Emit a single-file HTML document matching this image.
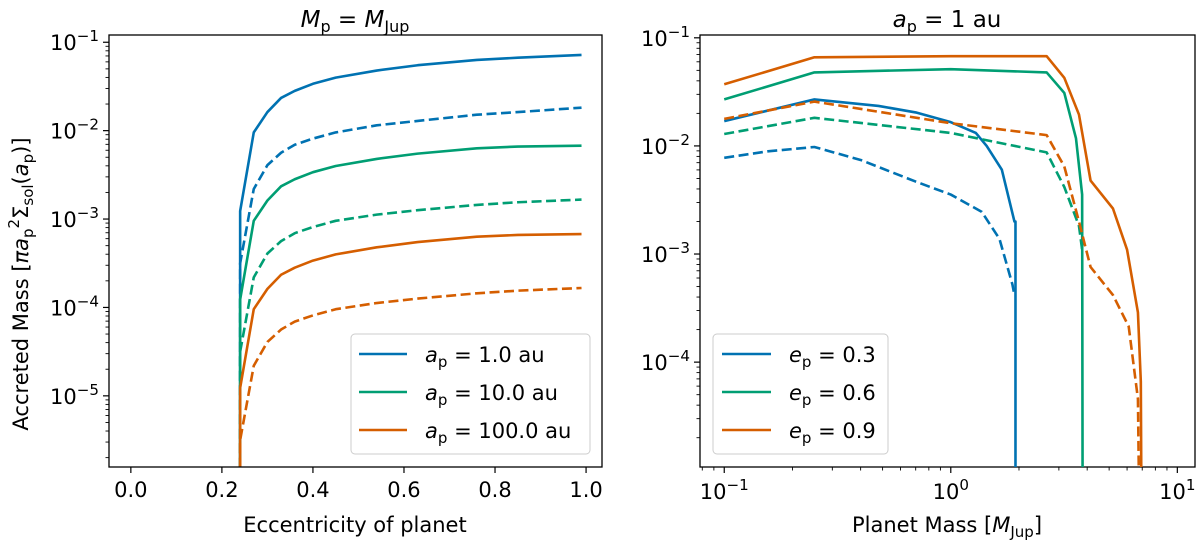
<!DOCTYPE html>
<html><head><meta charset="utf-8"><style>
html,body{margin:0;padding:0;background:#fff;}
svg{display:block;font-family:"DejaVu Sans","Liberation Sans",sans-serif;}
</style></head>
<body>
<svg id="fig" width="1200" height="541" viewBox="0 0 1200 541" xmlns="http://www.w3.org/2000/svg"></svg>
<script>
// ---- Left panel data (eccentricity vs log10 accreted mass) ----
const eccValues = [0.24,0.2401,0.27,0.30,0.33,0.36,0.40,0.45,0.54,0.63,0.76,0.85,0.99];
const leftBlueSolid  = [-9,-2.91,-2.02,-1.79,-1.63,-1.55,-1.47,-1.40,-1.32,-1.26,-1.20,-1.175,-1.144];
const leftBlueDash   = [-9,-3.5,-2.66,-2.39,-2.25,-2.16,-2.09,-2.02,-1.94,-1.89,-1.82,-1.79,-1.74];
const leftGreenSolid = [-9,-3.91,-3.02,-2.79,-2.63,-2.55,-2.47,-2.40,-2.32,-2.26,-2.20,-2.18,-2.17];
const leftGreenDash  = [-9,-4.5,-3.66,-3.39,-3.25,-3.16,-3.09,-3.02,-2.95,-2.9,-2.84,-2.81,-2.78];
const leftOrangeSolid= [-9,-4.91,-4.02,-3.79,-3.63,-3.55,-3.47,-3.40,-3.32,-3.26,-3.20,-3.18,-3.17];
const leftOrangeDash = [-9,-5.5,-4.66,-4.39,-4.25,-4.16,-4.09,-4.02,-3.95,-3.9,-3.84,-3.81,-3.78];
const leftXTicks = [0.0,0.2,0.4,0.6,0.8,1.0];
const leftXTickLabels = ["0.0","0.2","0.4","0.6","0.8","1.0"];
const leftYTicks = [-1,-2,-3,-4,-5];
// ---- Right panel data (planet mass vs log10 accreted mass) ----
const rBlueSolidM = [0.1,0.25,0.48,0.7,1.0,1.29,1.44,1.68,1.91,1.93,1.93];
const rBlueSolidV = [-1.77,-1.57,-1.63,-1.69,-1.78,-1.88,-2.0,-2.22,-2.70,-2.70,-9];
const rBlueDashM = [0.1,0.156,0.25,0.4,0.7,1.0,1.37,1.64,1.87,1.91];
const rBlueDashV = [-2.11,-2.05,-2.01,-2.13,-2.33,-2.45,-2.61,-2.86,-3.28,-3.38];
const rGreenSolidM = [0.1,0.25,1.0,2.65,3.17,3.57,3.8,3.82];
const rGreenSolidV = [-1.57,-1.32,-1.29,-1.32,-1.51,-1.93,-2.45,-9];
const rGreenDashM = [0.1,0.25,1.0,2.65,3.17,3.68,3.8];
const rGreenDashV = [-1.89,-1.74,-1.88,-2.06,-2.38,-2.74,-2.96];
const rOrangeSolidM = [0.1,0.25,1.0,2.65,3.17,3.68,4.14,5.2,6.0,6.7,6.9,6.95];
const rOrangeSolidV = [-1.43,-1.18,-1.17,-1.17,-1.37,-1.71,-2.32,-2.58,-2.96,-3.54,-4.18,-9];
const rOrangeDashM = [0.1,0.25,1.0,2.65,3.17,3.68,4.14,5.2,6.1,6.7,6.8];
const rOrangeDashV = [-1.75,-1.59,-1.79,-1.90,-2.19,-2.70,-3.12,-3.38,-3.67,-4.34,-9];
const rightXTicks = [-1,0,1];
const rightYTicks = [-1,-2,-3,-4];

const C = {blue:"#0072b2",green:"#009e73",orange:"#d55e00"};
const NS="http://www.w3.org/2000/svg";
const svg=document.getElementById('fig');
function mk(tag,attrs,parent){const e=document.createElementNS(NS,tag);for(const k in attrs)e.setAttribute(k,attrs[k]);(parent||svg).appendChild(e);return e;}

const L={x0:109,x1:602,y0:35,y1:467,xmin:-0.048,xmax:1.035,ymin:-5.805,ymax:-0.918};
const R={x0:700,x1:1195,y0:35,y1:467,xmin:-1.107,xmax:1.078,ymin:-4.97,ymax:-0.974};
function sx(P,v){return P.x0+(v-P.xmin)/(P.xmax-P.xmin)*(P.x1-P.x0);}
function sy(P,v){return P.y1-(v-P.ymin)/(P.ymax-P.ymin)*(P.y1-P.y0);}

function clip(P,id){const d=mk('defs',{});const c=mk('clipPath',{id:id},d);mk('rect',{x:P.x0,y:P.y0,width:P.x1-P.x0,height:P.y1-P.y0},c);}
clip(L,'clipL');clip(R,'clipR');

function line(P,xs,ys,col,dash,clipId,name,logx){
  let d='';
  for(let i=0;i<xs.length;i++){const xv=logx?Math.log10(xs[i]):xs[i];d+=(i?'L':'M')+sx(P,xv).toFixed(2)+','+sy(P,Math.max(ys[i],P.ymin-0.5)).toFixed(2);}
  const p=mk('path',{d:d,fill:'none',stroke:col,'stroke-width':2.6,'stroke-linejoin':'round','clip-path':'url(#'+clipId+')'});
  if(dash)p.setAttribute('stroke-dasharray','10,4.5');
  
  
}
function sup(t,base,exp,fs){const a=mk('tspan',{},t);a.textContent=base;const b=mk('tspan',{dy:-9,'font-size':fs*0.72},t);b.textContent=exp;}

line(L,eccValues,leftBlueSolid,C.blue,false,'clipL','line-blue-solid-1au');
line(L,eccValues,leftBlueDash,C.blue,true,'clipL','line-blue-dashed-1au');
line(L,eccValues,leftGreenSolid,C.green,false,'clipL','line-green-solid-10au');
line(L,eccValues,leftGreenDash,C.green,true,'clipL','line-green-dashed-10au');
line(L,eccValues,leftOrangeSolid,C.orange,false,'clipL','line-orange-solid-100au');
line(L,eccValues,leftOrangeDash,C.orange,true,'clipL','line-orange-dashed-100au');

function frame(P,name){const r=mk('rect',{x:P.x0,y:P.y0,width:P.x1-P.x0,height:P.y1-P.y0,fill:'none',stroke:'#000','stroke-width':1.3});}
frame(L,'left-axes-frame');frame(R,'right-axes-frame');

leftXTicks.forEach((v,i)=>{const x=sx(L,v);mk('line',{x1:x,x2:x,y1:L.y1,y2:L.y1+6,stroke:'#000','stroke-width':1.2});
  const t=mk('text',{x:x,y:L.y1+30,'text-anchor':'middle','font-size':21});t.textContent=leftXTickLabels[i];
  });
function yTicks(P,ticks,name){
  for(let dec=Math.floor(P.ymin);dec<=Math.ceil(P.ymax);dec++){
    for(let m=2;m<=9;m++){const v=dec+Math.log10(m);if(v<P.ymin||v>P.ymax)continue;const y=sy(P,v);mk('line',{x1:P.x0-3.5,x2:P.x0,y1:y,y2:y,stroke:'#000','stroke-width':0.9});}
  }
  ticks.forEach(v=>{const y=sy(P,v);mk('line',{x1:P.x0-6,x2:P.x0,y1:y,y2:y,stroke:'#000','stroke-width':1.2});
    const t=mk('text',{x:P.x0-10,y:y+8,'text-anchor':'end','font-size':21});sup(t,'10','−'+(-v),21);
    });
}
yTicks(L,leftYTicks,'left-y-tick-label');
yTicks(R,rightYTicks,'right-y-tick-label');

for(let dec=-2;dec<=1;dec++){for(let m=2;m<=9;m++){const v=dec+Math.log10(m);if(v<R.xmin||v>R.xmax)continue;const x=sx(R,v);mk('line',{x1:x,x2:x,y1:R.y1,y2:R.y1+3.5,stroke:'#000','stroke-width':0.9});}}
rightXTicks.forEach(v=>{const x=sx(R,v);mk('line',{x1:x,x2:x,y1:R.y1,y2:R.y1+6,stroke:'#000','stroke-width':1.2});
  const t=mk('text',{x:x,y:R.y1+32,'text-anchor':'middle','font-size':21});sup(t,'10',v<0?'−'+(-v):String(v),21);
  });

line(R,rBlueSolidM,rBlueSolidV,C.blue,false,'clipR','line-blue-solid-e03',true);
line(R,rBlueDashM,rBlueDashV,C.blue,true,'clipR','line-blue-dashed-e03',true);
line(R,rGreenSolidM,rGreenSolidV,C.green,false,'clipR','line-green-solid-e06',true);
line(R,rGreenDashM,rGreenDashV,C.green,true,'clipR','line-green-dashed-e06',true);
line(R,rOrangeSolidM,rOrangeSolidV,C.orange,false,'clipR','line-orange-solid-e09',true);
line(R,rOrangeDashM,rOrangeDashV,C.orange,true,'clipR','line-orange-dashed-e09',true);
</script>
<svg width="1200" height="541" style="position:absolute;left:0;top:0" xmlns="http://www.w3.org/2000/svg" font-family="DejaVu Sans, Liberation Sans, sans-serif">
  <text x="355" y="27" text-anchor="middle" font-size="23"><tspan font-style="italic">M</tspan><tspan font-size="16" dy="5">p</tspan><tspan dy="-5"> = </tspan><tspan font-style="italic">M</tspan><tspan font-size="16" dy="5">Jup</tspan></text>
  <text x="947" y="27" text-anchor="middle" font-size="23"><tspan font-style="italic">a</tspan><tspan font-size="16" dy="5">p</tspan><tspan dy="-5"> = 1 au</tspan></text>
  <text x="355" y="532" text-anchor="middle" font-size="21">Eccentricity of planet</text>
  <text x="947" y="532" text-anchor="middle" font-size="21">Planet Mass [<tspan font-style="italic">M</tspan><tspan font-size="15" dy="5">Jup</tspan><tspan dy="-5">]</tspan></text>
  <text transform="translate(28,284) rotate(-90)" text-anchor="middle" font-size="21">Accreted Mass [<tspan font-style="italic">πa</tspan><tspan font-size="15" dy="5">p</tspan><tspan font-size="15" dy="-14">2</tspan><tspan dy="9">Σ</tspan><tspan font-size="15" dy="5">sol</tspan><tspan dy="-5">(</tspan><tspan font-style="italic">a</tspan><tspan font-size="15" dy="5">p</tspan><tspan dy="-5">)]</tspan></text>
  <g>
    <rect x="351" y="334" width="239" height="120" rx="4" fill="#fff" fill-opacity="0.8" stroke="#ccc" stroke-width="1"/>
    <line x1="359" y1="354" x2="407" y2="354" stroke="#0072b2" stroke-width="2.6"/>
    <text x="425" y="362" font-size="21"><tspan font-style="italic">a</tspan><tspan font-size="15" dy="5">p</tspan><tspan dy="-5"> = 1.0 au</tspan></text>
    <line x1="359" y1="392" x2="407" y2="392" stroke="#009e73" stroke-width="2.6"/>
    <text x="425" y="400" font-size="21"><tspan font-style="italic">a</tspan><tspan font-size="15" dy="5">p</tspan><tspan dy="-5"> = 10.0 au</tspan></text>
    <line x1="359" y1="430" x2="407" y2="430" stroke="#d55e00" stroke-width="2.6"/>
    <text x="425" y="438" font-size="21"><tspan font-style="italic">a</tspan><tspan font-size="15" dy="5">p</tspan><tspan dy="-5"> = 100.0 au</tspan></text>
  </g>
  <g>
    <rect x="713" y="334" width="175" height="120" rx="4" fill="#fff" fill-opacity="0.8" stroke="#ccc" stroke-width="1"/>
    <line x1="722" y1="354" x2="771" y2="354" stroke="#0072b2" stroke-width="2.6"/>
    <text x="789" y="362" font-size="21"><tspan font-style="italic">e</tspan><tspan font-size="15" dy="5">p</tspan><tspan dy="-5"> = 0.3</tspan></text>
    <line x1="722" y1="392" x2="771" y2="392" stroke="#009e73" stroke-width="2.6"/>
    <text x="789" y="400" font-size="21"><tspan font-style="italic">e</tspan><tspan font-size="15" dy="5">p</tspan><tspan dy="-5"> = 0.6</tspan></text>
    <line x1="722" y1="430" x2="771" y2="430" stroke="#d55e00" stroke-width="2.6"/>
    <text x="789" y="438" font-size="21"><tspan font-style="italic">e</tspan><tspan font-size="15" dy="5">p</tspan><tspan dy="-5"> = 0.9</tspan></text>
  </g>
</svg>
</body></html>
